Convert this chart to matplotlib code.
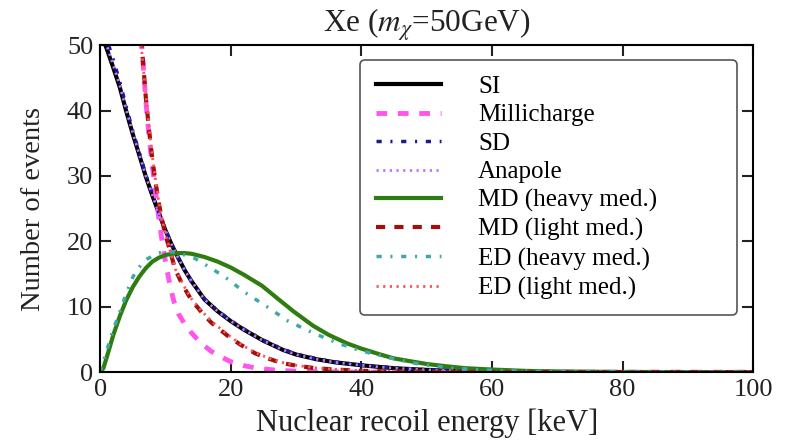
import matplotlib
matplotlib.use("Agg")
import matplotlib.pyplot as plt

plt.rcParams['font.family'] = ['Liberation Serif', 'DejaVu Serif']
plt.rcParams['mathtext.fontset'] = 'stix'

# ---- data ----
si_E = [0, 1, 2, 3, 4, 5, 6, 7, 8, 9, 10, 11, 12, 13, 14, 16, 18, 20, 22, 25, 28, 30, 33, 36, 40, 45, 50, 55, 60, 70, 80, 100]
si_N = [52, 49.5, 46.6, 43.6, 39.9, 36.4, 33.2, 29.9, 27.0, 24.3, 21.7, 19.4, 17.4, 15.5, 13.9, 11.1, 9.3, 7.8, 6.5, 4.8, 3.4, 2.7, 2.0, 1.5, 1.05, 0.6, 0.35, 0.2, 0.1, 0.03, 0.01, 0.0]

sd_E = [0, 1, 2, 3, 4, 5, 6, 7, 8, 9, 10, 11, 12, 13, 14, 16, 18, 20, 22, 25, 28, 30, 33, 36, 40, 45, 50, 55, 60, 70, 80, 100]
sd_N = [53.5, 51.0, 47.8, 44.5, 40.6, 36.9, 33.6, 30.2, 27.2, 24.4, 21.8, 19.4, 17.4, 15.5, 13.9, 11.2, 9.4, 7.9, 6.6, 4.9, 3.5, 2.8, 2.1, 1.55, 1.1, 0.65, 0.38, 0.22, 0.12, 0.04, 0.01, 0.0]

ana_E = [0, 1, 2, 3, 4, 5, 6, 7, 8, 9, 10, 11, 12, 13, 14, 16, 18, 20, 22, 25, 28, 30, 33, 36, 40, 45, 50, 55, 60, 70, 80, 100]
ana_N = [52.5, 50.0, 47.0, 43.9, 40.1, 36.6, 33.3, 30.0, 27.1, 24.3, 21.7, 19.4, 17.4, 15.5, 13.9, 11.1, 9.3, 7.8, 6.5, 4.8, 3.4, 2.7, 2.0, 1.5, 1.05, 0.6, 0.35, 0.2, 0.1, 0.03, 0.01, 0.0]

mc_E = [6.3, 7, 7.5, 8, 8.5, 9, 9.5, 10, 10.5, 11, 11.5, 12, 13, 14, 15, 16, 17, 18, 20, 22, 24, 27, 30, 35, 40, 100]
mc_N = [51, 41.5, 36, 31.5, 27.5, 23.5, 20, 17, 14.3, 12, 10.1, 8.9, 7.3, 6.0, 4.9, 4.0, 3.2, 2.6, 1.6, 1.0, 0.6, 0.3, 0.15, 0.05, 0.0, 0.0]

mdh_E = [0, 0.5, 1, 2, 3, 4, 5, 6, 7, 8, 9, 10, 11, 12, 13, 14, 16, 18, 20, 22, 24.8, 27, 29.6, 32.6, 35, 37.8, 40, 42.9, 45, 47.9, 50, 53, 56, 60, 65, 70, 80, 100]
mdh_N = [0, 0.6, 2.2, 5.6, 8.5, 11, 13, 14.6, 15.9, 16.9, 17.5, 17.9, 18.1, 18.2, 18.2, 18.1, 17.6, 16.9, 16.0, 14.9, 13.2, 11.4, 9.3, 7.1, 5.7, 4.4, 3.6, 2.7, 2.1, 1.6, 1.25, 0.9, 0.6, 0.4, 0.2, 0.1, 0.03, 0.0]

mdl_E = [6.3, 7, 7.5, 8, 8.5, 9, 9.5, 10, 10.5, 11, 11.5, 12.7, 14, 15.6, 17, 19.6, 21.5, 23.7, 25.7, 27.8, 30, 33, 36, 40, 45, 50, 60, 100]
mdl_N = [51, 42, 37, 32.5, 29, 25.8, 23.2, 21.0, 19.3, 17.5, 15.7, 13.2, 11.0, 9.1, 7.6, 5.5, 4.2, 2.9, 2.1, 1.4, 1.0, 0.6, 0.4, 0.2, 0.1, 0.05, 0.0, 0.0]

edh_E = [0, 0.5, 1.2, 2, 2.8, 4, 5, 5.6, 7, 8.9, 10, 11, 12, 14.5, 17, 19.6, 22, 25.7, 28.8, 32.6, 36.2, 39.8, 43.9, 47.9, 53, 58, 65, 75, 100]
edh_N = [0, 1.6, 3.9, 6.5, 8.6, 12, 14.5, 15.6, 17.2, 18.2, 18.4, 18.4, 18.2, 17.4, 15.9, 14.2, 12.3, 9.9, 7.8, 6.0, 4.5, 3.3, 2.3, 1.4, 0.7, 0.35, 0.15, 0.05, 0.0]

edl_E = [6.2, 7, 7.5, 8, 8.5, 9, 9.5, 10, 10.5, 11, 11.5, 12.7, 14, 15.6, 17, 19.6, 21.5, 23.7, 25.7, 27.8, 30, 33, 36, 40, 45, 50, 60, 100]
edl_N = [51, 42.5, 37.5, 33, 29.3, 26, 23.4, 21.1, 19.4, 17.6, 15.8, 13.4, 11.2, 9.3, 7.8, 5.7, 4.3, 3.0, 2.2, 1.5, 1.05, 0.65, 0.42, 0.22, 0.1, 0.05, 0.0, 0.0]

labels = ["SI", "Millicharge", "SD", "Anapole", "MD (heavy med.)",
          "MD (light med.)", "ED (heavy med.)", "ED (light med.)"]

fig = plt.figure(figsize=(7.88, 4.42), dpi=100)
ax = fig.add_axes([0.127, 0.158, 0.829, 0.74])

ax.plot(si_E, si_N, color='black', lw=3.0, ls='-', label=labels[0])
ax.plot(mc_E, mc_N, color='#ff55ee', lw=3.5, ls=(0, (2.2, 2.2)), label=labels[1])
ax.plot(sd_E, sd_N, color='#1a1a99', lw=2.5, ls=(0, (1.5, 2.5, 0.6, 2.5)), label=labels[2])
ax.plot(ana_E, ana_N, color='#bb77ff', lw=2.0, ls=(0, (0.8, 1.6)), label=labels[3])
ax.plot(mdh_E, mdh_N, color='#2f7d10', lw=3.0, ls='-', label=labels[4])
ax.plot(mdl_E, mdl_N, color='#a01010', lw=3.0, ls=(0, (2.2, 2.2)), label=labels[5])
ax.plot(edh_E, edh_N, color='#40a8a8', lw=2.5, ls=(0, (1.5, 2.5, 0.6, 2.5)), label=labels[6])
ax.plot(edl_E, edl_N, color='#ff5555', lw=2.0, ls=(0, (0.8, 1.6)), label=labels[7])

ax.set_xlim(0, 100)
ax.set_ylim(0, 50)
ax.set_xticks([0, 20, 40, 60, 80, 100])
ax.set_yticks([0, 10, 20, 30, 40, 50])
ax.tick_params(direction='in', length=8, width=1.5, top=True, right=True,
               labelsize=19, colors='#222222', pad=5)
for s in ax.spines.values():
    s.set_linewidth(1.5)

ax.set_xlabel("Nuclear recoil energy [keV]", fontsize=22, color='#222222', labelpad=5)
ax.set_ylabel("Number of events", fontsize=20.5, color='#222222', labelpad=15)
ax.set_title(r"Xe ($m_\chi$=50GeV)", fontsize=22.5, color='#222222', pad=9)

leg = ax.legend(loc='upper left', bbox_to_anchor=(0.398, 0.955, 0.577, 0.0),
                mode='expand', fontsize=18,
                handlelength=2.6, handletextpad=1.5, borderpad=0.62,
                labelspacing=0.24, fancybox=True, framealpha=1.0,
                edgecolor='#555555', borderaxespad=0.0)
leg.get_frame().set_linewidth(1.2)

fig.savefig("out.png", dpi=100)
